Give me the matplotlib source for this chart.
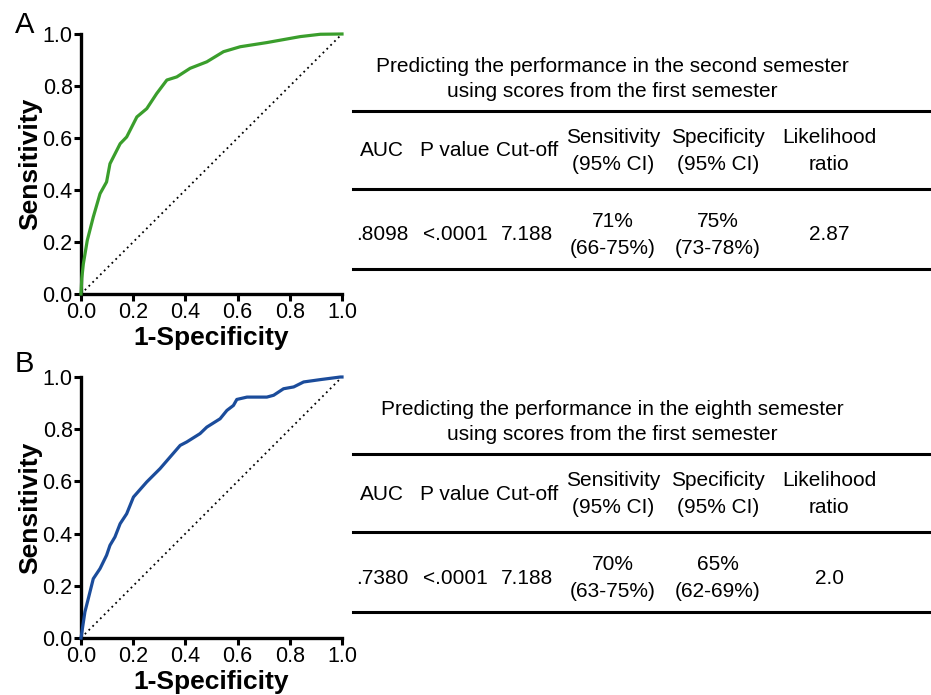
import matplotlib
matplotlib.use('Agg')
import matplotlib.pyplot as plt
from matplotlib.lines import Line2D

plt.rcParams['font.family'] = ['Liberation Sans', 'DejaVu Sans']

# ROC curve A (second semester)
fpr_a = [0.0, 0.003, 0.009, 0.024, 0.047, 0.073, 0.098, 0.111, 0.150, 0.175, 0.214,
         0.252, 0.290, 0.329, 0.367, 0.418, 0.482, 0.546, 0.610, 0.712, 0.840, 0.917, 1.0]
tpr_a = [0.0, 0.06, 0.116, 0.206, 0.296, 0.386, 0.431, 0.501, 0.578, 0.604, 0.681,
         0.713, 0.771, 0.823, 0.835, 0.868, 0.893, 0.932, 0.951, 0.967, 0.990, 0.999, 1.0]

# ROC curve B (eighth semester)
fpr_b = [0.0, 0.015, 0.028, 0.047, 0.073, 0.098, 0.111, 0.130, 0.150, 0.175, 0.201,
         0.252, 0.303, 0.341, 0.380, 0.405, 0.456, 0.482, 0.533, 0.559, 0.584, 0.597,
         0.636, 0.712, 0.738, 0.776, 0.815, 0.853, 0.917, 0.994, 1.0]
tpr_b = [0.0, 0.100, 0.151, 0.227, 0.266, 0.317, 0.355, 0.387, 0.438, 0.476, 0.540,
         0.598, 0.649, 0.693, 0.738, 0.751, 0.783, 0.808, 0.840, 0.872, 0.891, 0.914,
         0.923, 0.923, 0.930, 0.955, 0.962, 0.981, 0.990, 1.0, 1.0]

ticks = [0.0, 0.2, 0.4, 0.6, 0.8, 1.0]

titles = ["Predicting the performance in the second semester\nusing scores from the first semester",
          "Predicting the performance in the eighth semester\nusing scores from the first semester"]
headers = ["AUC", "P value", "Cut-off", "Sensitivity\n(95% CI)", "Specificity\n(95% CI)", "Likelihood\nratio"]
row_a = [".8098", "<.0001", "7.188", "71%\n(66-75%)", "75%\n(73-78%)", "2.87"]
row_b = [".7380", "<.0001", "7.188", "70%\n(63-75%)", "65%\n(62-69%)", "2.0"]

W, H = 931, 695
fig = plt.figure(figsize=(W / 100, H / 100), dpi=100)


def px(x, y):
    # pixel coords (top-left origin) -> figure fraction
    return x / W, 1 - y / H


def roc_panel(rect, fpr, tpr, color, letter, letter_y):
    ax = fig.add_axes(rect)
    ax.plot([0, 1], [0, 1], color='black', ls=(0, (1, 2)), lw=1.3)
    ax.plot(fpr, tpr, color=color, lw=2.3, solid_joinstyle='round', clip_on=False, zorder=3)
    ax.set_xlim(0, 1)
    ax.set_ylim(0, 1)
    ax.set_xticks(ticks)
    ax.set_yticks(ticks)
    ax.set_xticklabels(['%.1f' % t for t in ticks])
    ax.set_yticklabels(['%.1f' % t for t in ticks])
    for s in ['top', 'right']:
        ax.spines[s].set_visible(False)
    for s in ['left', 'bottom']:
        ax.spines[s].set_linewidth(2.4)
    ax.tick_params(width=2.2, length=5, labelsize=15.5, pad=1, color='black')
    ax.set_xlabel('1-Specificity', fontsize=19, fontweight='bold', labelpad=2)
    ax.set_ylabel('Sensitivity', fontsize=19, fontweight='bold', labelpad=0)
    x, y = px(15, letter_y)
    fig.text(x, y, letter, fontsize=21, ha='left', va='baseline')
    return ax


roc_panel([81 / W, 1 - 294 / H, 261 / W, 260 / H], fpr_a, tpr_a, '#3a9e2c', 'A', 33)
roc_panel([81 / W, 1 - 638 / H, 261 / W, 261 / H], fpr_b, tpr_b, '#1b4c9b', 'B', 372)

col_x = [382, 455, 527, 613, 718, 829]


def table(top, title, row):
    # top = y pixel of the first rule
    tx, ty = px(612, top - 32)
    fig.text(tx, ty, title, fontsize=15, ha='center', va='center', linespacing=1.4)
    for dy in [0, 78, 158]:
        y = 1 - (top + dy) / H
        fig.add_artist(Line2D([353 / W, 1.0], [y, y], color='black', lw=2.2))
    for cx, h, v in zip(col_x, headers, row):
        x, y = px(cx, top + 40)
        fig.text(x, y, h, fontsize=15, ha='center', va='center', linespacing=1.55)
        x, y = px(cx, top + 124)
        fig.text(x, y, v, fontsize=15, ha='center', va='center', linespacing=1.55)


table(111, titles[0], row_a)
table(454, titles[1], row_b)

fig.savefig('out.png', dpi=100)
